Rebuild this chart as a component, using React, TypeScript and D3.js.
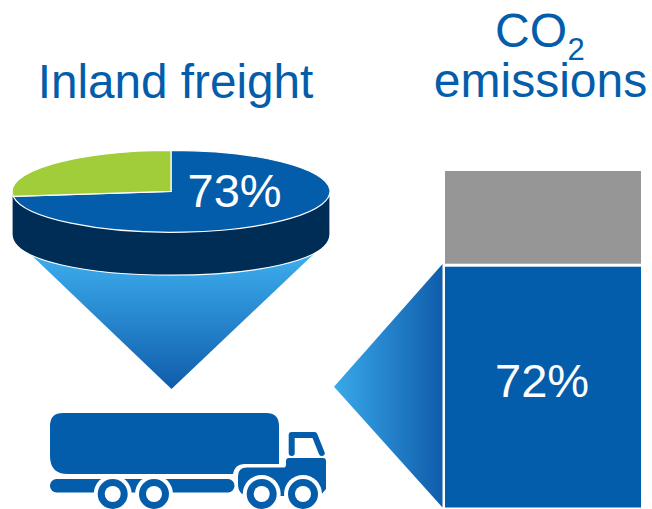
import React from "react";
import * as d3 from "d3";

const WIDTH = 652;
const HEIGHT = 509;

const pieLabels = ["Inland freight share", "Other"];
const pieValues = [73, 27];
const barLabels = ["Inland freight share", "Other"];
const barValues = [72, 28];

const BLUE = "#035dab";
const NAVY = "#002d56";
const GREEN = "#a2cd3a";
const GREY = "#969696";
const SKY = "#3aa9ea";
const DEEP = "#0f5cab";
const FONT = "'Liberation Sans', Arial, sans-serif";

const pieCx = 171;
const pieCy = 191.3;
const pieRx = 159;
const pieRy = 41;
const pieDepth = 43;

const barLeft = 445;
const barRight = 641;
const barY = d3.scaleLinear().domain([0, 100]).range([507.5, 171]);

const wheelXs = [112.7, 154, 261.7, 303];
const wheelY = 494;

export default function App() {
  // Slices run clockwise from twelve o'clock on a unit circle, then get squashed into the disc.
  const slices = d3.pie<number>().sort(null)(pieValues);
  const sliceArc = d3.arc<d3.PieArcDatum<number>>().innerRadius(0).outerRadius(1);
  const sliceColors = [BLUE, GREEN];

  const sidePath = d3.path();
  sidePath.moveTo(pieCx - pieRx, pieCy);
  sidePath.lineTo(pieCx - pieRx, pieCy + pieDepth);
  sidePath.bezierCurveTo(
    pieCx - pieRx,
    pieCy + pieDepth + pieRy * 1.33,
    pieCx + pieRx,
    pieCy + pieDepth + pieRy * 1.33,
    pieCx + pieRx,
    pieCy + pieDepth
  );
  sidePath.lineTo(pieCx + pieRx, pieCy);
  sidePath.closePath();

  const funnel = d3.line()([
    [26, 250],
    [318, 250],
    [171.5, 389],
  ]);

  const boundary = barY(barValues[0]);
  const callout = d3.line()([
    [442.5, 264],
    [442.5, 507.5],
    [334, 386.7],
  ]);

  return (
    <svg
      width={WIDTH}
      height={HEIGHT}
      viewBox={`0 0 ${WIDTH} ${HEIGHT}`}
      style={{ position: "absolute", left: 0, top: 0, background: "#fff" }}
      fontFamily={FONT}
    >
      <defs>
        <linearGradient id="funnelFill" gradientUnits="userSpaceOnUse" x1="0" y1="262" x2="0" y2="389">
          <stop offset="0" stopColor={SKY} />
          <stop offset="1" stopColor={DEEP} />
        </linearGradient>
        <linearGradient id="calloutFill" gradientUnits="userSpaceOnUse" x1="334" y1="0" x2="442.5" y2="0">
          <stop offset="0" stopColor={SKY} />
          <stop offset="1" stopColor={DEEP} />
        </linearGradient>
      </defs>

      {/* Titles */}
      <g fill={BLUE}>
        <text x={175.5} y={98} fontSize={47.7} textAnchor="middle">Inland freight</text>
        <text x={495} y={47} fontSize={48}>
          CO
          <tspan x={567.5} y={60} fontSize={31}>2</tspan>
        </text>
        <text x={540.5} y={97} fontSize={48} textAnchor="middle">emissions</text>
      </g>

      {/* Funnel below the disc */}
      <path d={funnel ?? ""} fill="url(#funnelFill)" />

      {/* Disc: side wall, then the top face */}
      <path d={sidePath.toString()} fill={NAVY} stroke="#fff" strokeWidth={1.2} strokeLinejoin="round" />
      <g transform={`translate(${pieCx},${pieCy}) scale(${pieRx},${pieRy})`}>
        {slices.map((s, i) => (
          <path
            key={pieLabels[i]}
            d={sliceArc(s) ?? ""}
            fill={sliceColors[i]}
            stroke="#fff"
            strokeWidth={1.2}
            vectorEffect="non-scaling-stroke"
          />
        ))}
      </g>
      <text x={187.5} y={207} fontSize={47} fill="#fff">{pieValues[0]}%</text>

      {/* Stacked bar */}
      <rect
        x={barLeft}
        y={barY(100)}
        width={barRight - barLeft}
        height={boundary - barY(100) - 1.5}
        fill={GREY}
      >
        <title>{barLabels[1]}</title>
      </rect>
      <rect
        x={barLeft}
        y={boundary + 1.5}
        width={barRight - barLeft}
        height={barY(0) - boundary - 1.5}
        fill={BLUE}
      >
        <title>{barLabels[0]}</title>
      </rect>
      <text x={495} y={397} fontSize={47} fill="#fff">{barValues[0]}%</text>

      {/* Callout pointing at the bar's blue segment */}
      <path d={callout ?? ""} fill="url(#calloutFill)" />

      {/* Truck icon */}
      <g fill={BLUE}>
        <path d="M63,413 H266 Q279,413 279,426 V464 H244 Q235,464 233,474 H68 Q50,474 50,456 V426 Q50,413 63,413 Z" />
        <rect x={50} y={479} width={184.5} height={13.5} rx={6.5} />
        <path d="M247,467.5 H284 Q286,467.5 286,464 V461 Q286,458 289,458 H323 Q326,458 326,461 V489 L320,496 H250 Q238,496 238,484 V476 Q238,467.5 247,467.5 Z" />
        <path
          d="M291.7,453 V435 H314.5 L321.7,453"
          fill="none"
          stroke={BLUE}
          strokeWidth={6}
          strokeLinecap="round"
          strokeLinejoin="round"
        />
        {wheelXs.map((x) => (
          <g key={x}>
            <circle cx={x} cy={wheelY} r={19} fill="#fff" />
            <circle cx={x} cy={wheelY} r={15} fill={BLUE} />
            <circle cx={x} cy={wheelY} r={8} fill="#fff" />
          </g>
        ))}
      </g>
    </svg>
  );
}
